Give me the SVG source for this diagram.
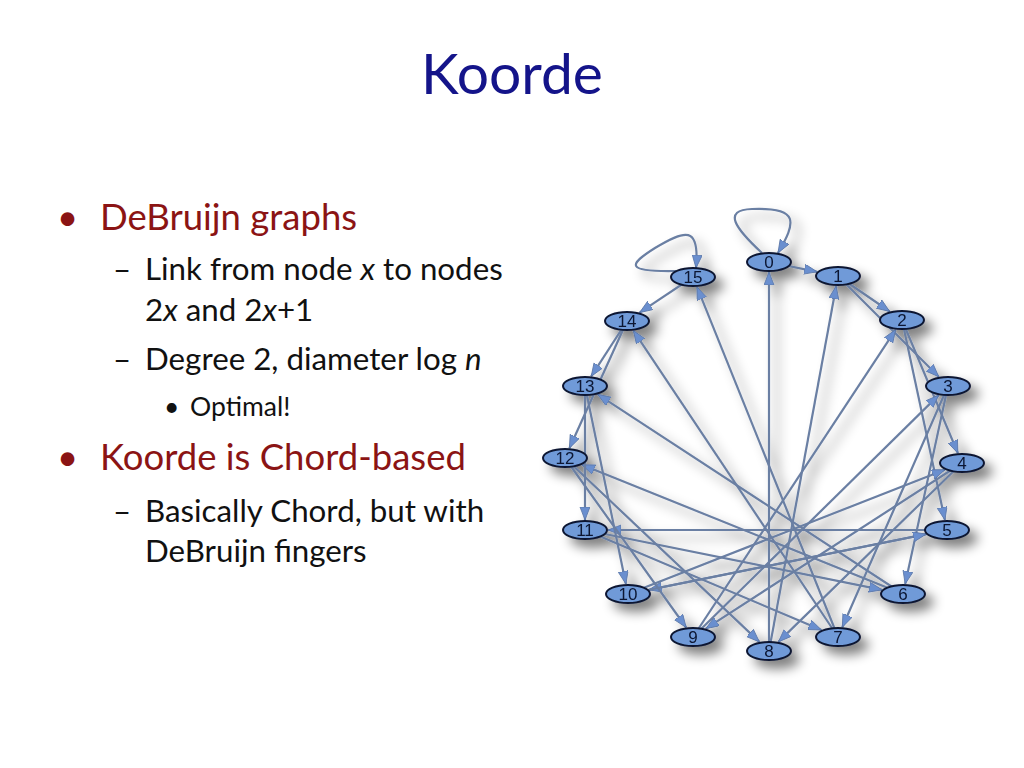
<svg xmlns="http://www.w3.org/2000/svg" width="1024" height="768" viewBox="0 0 1024 768">
<style>
.title{font-family:"Lato","Liberation Sans",sans-serif;font-size:57px;fill:#14148a}
.l1{font-family:"Lato","Liberation Sans",sans-serif;font-size:36.5px;fill:#8b1414}
.l2{font-family:"Lato","Liberation Sans",sans-serif;font-size:31.3px;fill:#111}
.l3{font-family:"Lato","Liberation Sans",sans-serif;font-size:26.5px;fill:#111}
.edge{fill:none;stroke:#6a7fa3;stroke-width:2.2;marker-end:url(#arr)}
.node ellipse{fill:#6f9ad8;stroke:#0b1633;stroke-width:2}
.node text{font-family:"Liberation Sans","DejaVu Sans",sans-serif;font-size:17px;fill:#0b1633;text-anchor:middle}
</style>
<defs>
<marker id="arr" markerUnits="userSpaceOnUse" markerWidth="14" markerHeight="11" refX="13" refY="5" orient="auto">
<path d="M0,0 L13,5 L0,10 z" fill="#6b8fcf" stroke="#5a76a6" stroke-width="0.8"/>
</marker>
<filter id="sh" x="-20%" y="-20%" width="150%" height="150%">
<feGaussianBlur in="SourceAlpha" stdDeviation="6"/>
<feOffset dx="8" dy="8" result="b"/>
<feComponentTransfer in="b" result="c"><feFuncA type="linear" slope="0.5"/></feComponentTransfer>
<feMerge><feMergeNode in="c"/><feMergeNode in="SourceGraphic"/></feMerge>
</filter>
</defs>
<rect width="1024" height="768" fill="#fff"/>
<text class="title" x="512" y="94" text-anchor="middle">Koorde</text>
<g id="bullets">
<text class="l1" x="57" y="230">•</text>
<text class="l1" x="100" y="230">DeBruijn graphs</text>
<text class="l2" x="113" y="280">–</text>
<text class="l2" x="145" y="280">Link from node <tspan font-style="italic">x</tspan> to nodes</text>
<text class="l2" x="145" y="321">2<tspan font-style="italic">x</tspan> and 2<tspan font-style="italic">x</tspan>+1</text>
<text class="l2" x="113" y="370">–</text>
<text class="l2" x="145" y="370">Degree 2, diameter log <tspan font-style="italic">n</tspan></text>
<text class="l3" x="164" y="416">•</text>
<text class="l3" x="190" y="416">Optimal!</text>
<text class="l1" x="57" y="470">•</text>
<text class="l1" x="100" y="470">Koorde is Chord-based</text>
<text class="l2" x="113" y="522">–</text>
<text class="l2" x="145" y="522">Basically Chord, but with</text>
<text class="l2" x="145" y="562">DeBruijn fingers</text>
</g>
<g id="graph" filter="url(#sh)">
<g id="connectors">
<path class="edge" d="M762,253 C735,228 722,210 752,209 C800,207 796,222 778,253"/>
<path class="edge" d="M676,271 C625,272 628,265 655,248 C685,230 700,225 696,268"/>
<line class="edge" x1="769" y1="262" x2="817.2" y2="271.8"/>
<line class="edge" x1="838" y1="276" x2="889.7" y2="311.5"/>
<line class="edge" x1="838" y1="276" x2="938.8" y2="376.8"/>
<line class="edge" x1="902" y1="320" x2="957.9" y2="453.2"/>
<line class="edge" x1="902" y1="320" x2="944.9" y2="520"/>
<line class="edge" x1="948" y1="386" x2="905.2" y2="584"/>
<line class="edge" x1="948" y1="386" x2="842.3" y2="627.2"/>
<line class="edge" x1="962" y1="463" x2="778.4" y2="641.9"/>
<line class="edge" x1="962" y1="463" x2="705.8" y2="628.7"/>
<line class="edge" x1="947" y1="530" x2="648.9" y2="589.8"/>
<line class="edge" x1="947" y1="530" x2="608" y2="530"/>
<line class="edge" x1="903" y1="594" x2="581.9" y2="464.8"/>
<line class="edge" x1="903" y1="594" x2="597.7" y2="394.3"/>
<line class="edge" x1="838" y1="637" x2="633.4" y2="330.6"/>
<line class="edge" x1="838" y1="637" x2="697" y2="286.9"/>
<line class="edge" x1="769" y1="651" x2="769" y2="272"/>
<line class="edge" x1="769" y1="651" x2="836.2" y2="286"/>
<line class="edge" x1="693" y1="637" x2="895.7" y2="329.6"/>
<line class="edge" x1="693" y1="637" x2="938.7" y2="395.1"/>
<line class="edge" x1="628" y1="594" x2="944.9" y2="469.7"/>
<line class="edge" x1="628" y1="594" x2="926.1" y2="534.2"/>
<line class="edge" x1="585" y1="530" x2="882.1" y2="589.8"/>
<line class="edge" x1="585" y1="530" x2="821.5" y2="630"/>
<line class="edge" x1="565" y1="458" x2="759.4" y2="641.9"/>
<line class="edge" x1="565" y1="458" x2="686.2" y2="627.5"/>
<line class="edge" x1="585" y1="386" x2="625.9" y2="584"/>
<line class="edge" x1="585" y1="386" x2="585" y2="520"/>
<line class="edge" x1="627" y1="321" x2="569.4" y2="448.2"/>
<line class="edge" x1="627" y1="321" x2="591.2" y2="376.4"/>
<line class="edge" x1="693" y1="277" x2="639.6" y2="312.6"/>
</g>
<g id="n0" class="node"><ellipse cx="769" cy="262" rx="22" ry="9"/><text x="769" y="268">0</text></g>
<g id="n1" class="node"><ellipse cx="838" cy="276" rx="22" ry="9"/><text x="838" y="282">1</text></g>
<g id="n2" class="node"><ellipse cx="902" cy="320" rx="22" ry="9"/><text x="902" y="326">2</text></g>
<g id="n3" class="node"><ellipse cx="948" cy="386" rx="22" ry="9"/><text x="948" y="392">3</text></g>
<g id="n4" class="node"><ellipse cx="962" cy="463" rx="22" ry="9"/><text x="962" y="469">4</text></g>
<g id="n5" class="node"><ellipse cx="947" cy="530" rx="22" ry="9"/><text x="947" y="536">5</text></g>
<g id="n6" class="node"><ellipse cx="903" cy="594" rx="22" ry="9"/><text x="903" y="600">6</text></g>
<g id="n7" class="node"><ellipse cx="838" cy="637" rx="22" ry="9"/><text x="838" y="643">7</text></g>
<g id="n8" class="node"><ellipse cx="769" cy="651" rx="22" ry="9"/><text x="769" y="657">8</text></g>
<g id="n9" class="node"><ellipse cx="693" cy="637" rx="22" ry="9"/><text x="693" y="643">9</text></g>
<g id="n10" class="node"><ellipse cx="628" cy="594" rx="22" ry="9"/><text x="628" y="600">10</text></g>
<g id="n11" class="node"><ellipse cx="585" cy="530" rx="22" ry="9"/><text x="585" y="536">11</text></g>
<g id="n12" class="node"><ellipse cx="565" cy="458" rx="22" ry="9"/><text x="565" y="464">12</text></g>
<g id="n13" class="node"><ellipse cx="585" cy="386" rx="22" ry="9"/><text x="585" y="392">13</text></g>
<g id="n14" class="node"><ellipse cx="627" cy="321" rx="22" ry="9"/><text x="627" y="327">14</text></g>
<g id="n15" class="node"><ellipse cx="693" cy="277" rx="22" ry="9"/><text x="693" y="283">15</text></g>
</g>
</svg>
